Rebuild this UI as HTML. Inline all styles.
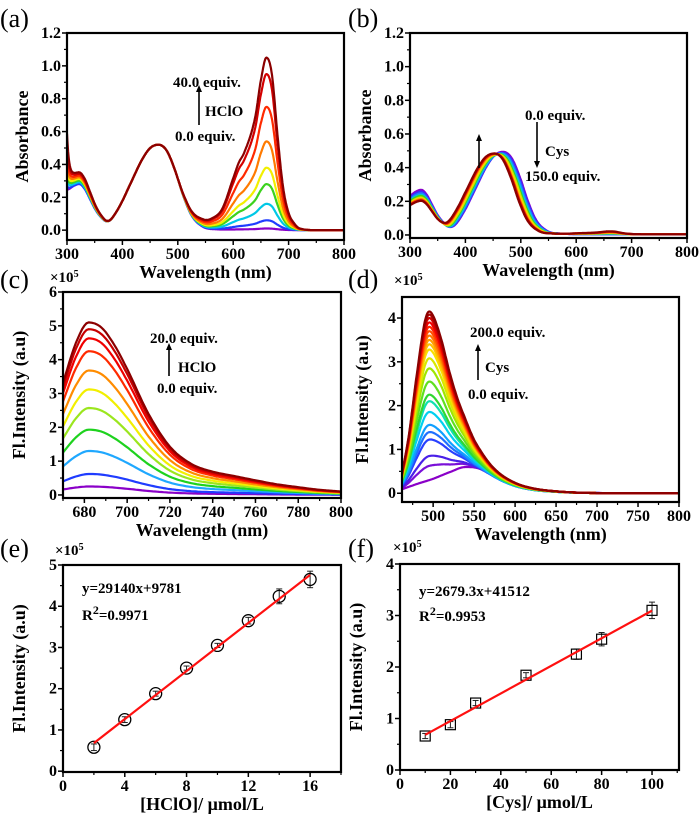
<!DOCTYPE html>
<html><head><meta charset="utf-8">
<style>
body{margin:0;background:#fff;}
svg{display:block;}
text{font-family:"Liberation Serif","DejaVu Serif",serif !important;}
.tk{font-weight:bold;font-size:16px;}
.ttl{font-weight:bold;font-size:18px;}
.ann{font-weight:bold;font-size:15px;}
.pl{font-size:26px;font-weight:normal;}
</style></head>
<body>
<svg id="fig" width="700" height="818" viewBox="0 0 700 818" font-family="Liberation Serif, serif"></svg>
<script>
// ---------- Panel (a) data: HClO absorbance ----------
const aCurveColors = ["#8a00c8","#1f3cff","#00c8e6","#3cd21e","#f2ef00","#ff7a00","#ff2a00","#d40000","#8b0000"];
const aPeak660 = [0.01,0.06,0.16,0.28,0.38,0.54,0.75,0.95,1.05];
const aVisPeak = [0.52,0.52,0.52,0.52,0.52,0.52,0.52,0.52,0.52];
const aUvPeak = [0.25,0.25,0.26,0.27,0.28,0.29,0.3,0.31,0.32];
const aUvStart = [0.22,0.24,0.27,0.3,0.33,0.37,0.42,0.5,0.56];
const shape660Wl = [500,540,560,580,600,610,620,640,650,660,670,680,690,700,710,720,750,800];
const shape660Val = [0.0,0.04,0.06,0.12,0.3,0.39,0.45,0.66,0.87,1.0,0.9,0.55,0.25,0.1,0.04,0.01,0,0];
// ---------- Panel (b) data: Cys absorbance ----------
const bCurveColors = ["#8a00c8","#3a2cff","#1f80ff","#00c8e6","#3cd21e","#c8e600","#ffd000","#ff7a00","#ff2a00","#c80000","#8b0000"];
const bPeakPos = [468,467,465,463,461,459,457,455,454,453,452];
const bPeakAmp = [0.49,0.485,0.48,0.478,0.476,0.475,0.475,0.476,0.478,0.48,0.48];
const bUvAmp = [0.235,0.225,0.215,0.205,0.2,0.19,0.185,0.18,0.175,0.172,0.17];
const bRedBump = [0,0,0.002,0.004,0.006,0.008,0.01,0.012,0.014,0.016,0.018];
// shared absorbance profile (offset nm from peak -> normalized)
const visOff = [-170,-110,-90,-70,-50,-30,-15,0,15,30,45,60,80,100,170];
const visVal = [0.06,0.06,0.09,0.28,0.55,0.82,0.96,1,0.93,0.7,0.4,0.17,0.04,0.01,0];
const uvOff = [-30,-20,-10,0,10,20,30,40,50,70];
const uvVal = [0.8,0.85,0.95,1,0.88,0.62,0.36,0.18,0.05,0];
// ---------- Panel (c) data: HClO fluorescence ----------
const cCurveColors = ["#8a00c8","#1f3cff","#1fa8ff","#1ed21e","#9be61e","#f2ef00","#ff8c00","#ff2a00","#f00000","#c80000","#8b0000"];
const cPeaks = [0.25,0.62,1.3,1.93,2.57,3.12,3.68,4.25,4.63,4.9,5.1];
const cShapeWl = [670,676,682,688,694,700,710,720,730,740,750,760,770,780,790,800];
const cShapeVal = [0.65,0.88,1,0.97,0.87,0.73,0.47,0.28,0.18,0.135,0.11,0.085,0.062,0.045,0.03,0.02];
// ---------- Panel (d) data: Cys fluorescence ----------
const dCurveColors = ["#8a00c8","#7a10d8","#4a20e8","#2840ff","#1f70ff","#10a0ff","#00d0f0","#10e0b0","#30d830","#60e020","#a0e600","#d8e800","#f8e000","#ffc000","#ffa000","#ff7800","#ff5000","#ff2800","#f00000","#d00000","#a80000","#8b0000"];
const dPeaks = [0.0,0.35,0.6,1.0,1.18,1.35,1.65,1.9,2.05,2.35,2.65,2.88,3.08,3.2,3.3,3.4,3.5,3.6,3.7,3.8,3.88,3.95];
const dBroad = [0.6,0.55,0.5,0.45,0.43,0.42,0.41,0.4,0.4,0.4,0.4,0.4,0.4,0.4,0.4,0.4,0.4,0.4,0.4,0.4,0.4,0.4];
const dShapeWl = [462,470,480,490,495,500,510,520,530,540,550,560,570,580,600,620,650,700,800];
const dShapeVal = [0.1,0.3,0.65,0.95,1,0.97,0.82,0.62,0.45,0.32,0.21,0.14,0.09,0.06,0.03,0.015,0.005,0,0];
const dBroadWl = [462,480,500,520,540,555,570,585,600,620,650,700,750,800];
const dBroadVal = [0.15,0.35,0.55,0.8,1,0.95,0.75,0.5,0.3,0.15,0.06,0.01,0,0];
// ---------- Panel (e) data ----------
const eX = [2,4,6,8,10,12,14,16];
const eY = [0.58,1.25,1.88,2.5,3.05,3.65,4.24,4.65];
const eErr = [0.08,0.07,0.06,0.05,0.05,0.08,0.18,0.2];
const eSlope = 0.2914, eIntercept = 0.09781;
// ---------- Panel (f) data ----------
const fX = [10,20,30,50,70,80,100];
const fY = [0.66,0.88,1.3,1.84,2.25,2.54,3.1];
const fErr = [0.05,0.06,0.05,0.05,0.1,0.13,0.16];
const fSlope = 0.026793, fIntercept = 0.41512;

const NS="http://www.w3.org/2000/svg";
const svg=document.getElementById('fig');
function el(tag,attrs,parent,text){const e=document.createElementNS(NS,tag);for(const k in attrs)e.setAttribute(k,attrs[k]);if(tag==='text')e.setAttribute('font-family','Liberation Serif, serif');if(text!==undefined)e.textContent=text;(parent||svg).appendChild(e);return e;}
// monotone cubic interpolation (Fritsch-Carlson)
function smooth(xs,ys,x){
 const n=xs.length;
 if(x<=xs[0])return ys[0];if(x>=xs[n-1])return ys[n-1];
 const d=[],m=[];
 for(let i=0;i<n-1;i++)d.push((ys[i+1]-ys[i])/(xs[i+1]-xs[i]));
 m[0]=d[0];m[n-1]=d[n-2];
 for(let i=1;i<n-1;i++){m[i]=(d[i-1]*d[i]<=0)?0:(d[i-1]+d[i])/2;}
 for(let i=0;i<n-1;i++){if(d[i]===0){m[i]=0;m[i+1]=0;}else{const a=m[i]/d[i],b=m[i+1]/d[i],s=a*a+b*b;if(s>9){const t=3/Math.sqrt(s);m[i]=t*a*d[i];m[i+1]=t*b*d[i];}}}
 let i=0;while(x>xs[i+1])i++;
 const h=xs[i+1]-xs[i],t=(x-xs[i])/h;
 const h00=2*t*t*t-3*t*t+1,h10=t*t*t-2*t*t+t,h01=-2*t*t*t+3*t*t,h11=t*t*t-t*t;
 return h00*ys[i]+h10*h*m[i]+h01*ys[i+1]+h11*h*m[i+1];
}

function panel(name,box,xd,yd,xticks,yticks,xminor,yminor,xlabel,ylabel,ylabX,tickfmt){
 const g=el('g',{},svg);
 
 
 const sx=v=>box.L+(v-xd[0])/(xd[1]-xd[0])*(box.R-box.L);
 const sy=v=>box.B-(v-yd[0])/(yd[1]-yd[0])*(box.B-box.T);
 const clipId=name+'-clip';
 const cp=el('clipPath',{id:clipId},g);el('rect',{x:box.L,y:box.T,width:box.R-box.L,height:box.B-box.T},cp);
 const plot=el('g',{'clip-path':'url(#'+clipId+')'},g);
 
 
 const ax=el('g',{},g);
 
 
 xticks.forEach(v=>{el('line',{x1:sx(v),x2:sx(v),y1:box.B,y2:box.B+5,stroke:'#000','stroke-width':1.5},ax);
  const t=el('text',{x:sx(v),y:box.B+19,'text-anchor':'middle',class:'tk'},ax,tickfmt.x(v));
  });
 xminor.forEach(v=>el('line',{x1:sx(v),x2:sx(v),y1:box.B,y2:box.B+3,stroke:'#000','stroke-width':1.2},ax));
 yticks.forEach(v=>{el('line',{x1:box.L-5,x2:box.L,y1:sy(v),y2:sy(v),stroke:'#000','stroke-width':1.5},ax);
  const t=el('text',{x:box.L-6,y:sy(v)+5,'text-anchor':'end',class:'tk'},ax,tickfmt.y(v));
  });
 yminor.forEach(v=>el('line',{x1:box.L-3,x2:box.L,y1:sy(v),y2:sy(v),stroke:'#000','stroke-width':1.2},ax));
 el('rect',{x:box.L,y:box.T,width:box.R-box.L,height:box.B-box.T,fill:'none',stroke:'#000','stroke-width':2.2},ax);
 const xt=el('text',{x:(box.L+box.R)/2,y:box.B+38,'text-anchor':'middle',class:'ttl'},g,xlabel);
 
 const cy=(box.T+box.B)/2;
 const yt=el('text',{x:ylabX,y:cy,'text-anchor':'middle',class:'ttl',transform:`rotate(-90 ${ylabX} ${cy})`},g,ylabel);
 
 return {sx,sy,plot,g};
}
function range(a,b,s){const r=[];for(let v=a;v<=b+1e-9;v+=s)r.push(+v.toFixed(4));return r;}
function curve(P,fn,x0,x1,color,w,name){
 let d='';for(let x=x0;x<=x1;x+=1){d+=(d?'L':'M')+P.sx(x).toFixed(1)+','+P.sy(fn(x)).toFixed(1);}
 const p=el('path',{d,fill:'none',stroke:color,'stroke-width':w,'stroke-linejoin':'round'},P.plot);
 
}
function label(txt,x,y,cls,name){const t=el('text',{x,y,class:cls},svg,txt);return t;}
function arrow(x,y1,y2,name){const g=el('g',{},svg);
 const dir=y2<y1?-1:1;el('line',{x1:x,x2:x,y1:y1,y2:y2-dir*6,stroke:'#000','stroke-width':1.6},g);
 el('path',{d:`M${x-3},${y2-dir*7}L${x+3},${y2-dir*7}L${x},${y2}Z`,fill:'#000'},g);}
function sup5(x,y,name){const t=el('text',{x,y,class:'ann','font-size':'14'},svg);
 el('tspan',{},t,'×10');el('tspan',{dy:-5,'font-size':'10'},t,'5');}

const f1={x:v=>String(v),y:v=>v.toFixed(1)};
const f0={x:v=>String(v),y:v=>String(v)};

// ---- (a)
const A=panel('panel-a',{L:67,R:344,T:33,B:240},[300,800],[-0.06,1.2],range(300,800,100),range(0,1.2,0.2),range(350,750,100),range(0.1,1.1,0.2),'Wavelength (nm)','Absorbance',28,f1);
aCurveColors.forEach((c,i)=>{
 curve(A,x=>aVisPeak[i]*smooth(visOff,visVal,x-465)+aUvPeak[i]*smooth(uvOff,uvVal,x-322)+Math.max(0,aUvStart[i]-aUvPeak[i]*0.85)*Math.exp(-(x-300)/4)+aPeak660[i]*smooth(shape660Wl,shape660Val,x),300,800,c,2.2,'absorbance-curve-hclo-'+i);
});
// ---- (b)
const B=panel('panel-b',{L:410,R:687,T:33,B:238},[300,800],[-0.018,1.2],range(300,800,100),range(0,1.2,0.2),range(350,750,100),range(0.1,1.1,0.2),'Wavelength (nm)','Absorbance',371,f1);
bCurveColors.forEach((c,i)=>{
 curve(B,x=>bPeakAmp[i]*smooth(visOff,visVal,x-bPeakPos[i])+bUvAmp[i]*smooth(uvOff,uvVal,x-320)+bRedBump[i]*smooth(shape660Wl,shape660Val,x)+0.004,300,800,c,2.2,'absorbance-curve-cys-'+i);
});
// ---- (c)
const C=panel('panel-c',{L:63,R:341,T:292,B:498},[670,800],[-0.09,6],range(680,800,20),range(0,6,1),range(670,790,10),range(0.5,5.5,1),'Wavelength (nm)','Fl.Intensity (a.u)',25,f0);
cCurveColors.forEach((c,i)=>{
 curve(C,x=>cPeaks[i]*smooth(cShapeWl,cShapeVal,x),670,800,c,2.2,'fluorescence-curve-hclo-'+i);
});
// ---- (d)
const D=panel('panel-d',{L:402,R:679,T:297,B:502},[462,800],[-0.2,4.48],range(500,800,50),range(0,4,1),range(475,775,50),range(0.5,4,1),'Wavelength (nm)','Fl.Intensity (a.u)',368,f0);
dCurveColors.forEach((c,i)=>{
 curve(D,x=>dPeaks[i]*smooth(dShapeWl,dShapeVal,x)+dBroad[i]*smooth(dBroadWl,dBroadVal,x),462,800,c,2.2,'fluorescence-curve-cys-'+i);
});
// ---- (e)
const E=panel('panel-e',{L:63,R:341,T:565,B:772},[0,18],[-0.02,5],range(0,16,4),range(0,5,1),range(2,18,4),range(0.5,4.5,1),'[HClO]/ μmol/L','Fl.Intensity (a.u)',25,f0);
eX.forEach((x,i)=>{
 const g=el('g',{},E.plot);
 el('line',{x1:E.sx(x),x2:E.sx(x),y1:E.sy(eY[i]-eErr[i]),y2:E.sy(eY[i]+eErr[i]),stroke:'#222','stroke-width':1},g);
 el('line',{x1:E.sx(x)-3,x2:E.sx(x)+3,y1:E.sy(eY[i]+eErr[i]),y2:E.sy(eY[i]+eErr[i]),stroke:'#222','stroke-width':1},g);
 el('line',{x1:E.sx(x)-3,x2:E.sx(x)+3,y1:E.sy(eY[i]-eErr[i]),y2:E.sy(eY[i]-eErr[i]),stroke:'#222','stroke-width':1},g);
 el('circle',{cx:E.sx(x),cy:E.sy(eY[i]),r:6,fill:'none',stroke:'#000','stroke-width':1.3},g);
});
{const l=el('line',{x1:E.sx(eX[0]),y1:E.sy(eSlope*eX[0]+eIntercept),x2:E.sx(eX[eX.length-1]),y2:E.sy(eSlope*eX[eX.length-1]+eIntercept),stroke:'#ff1010','stroke-width':2.2},E.plot);
 }
// ---- (f)
const F=panel('panel-f',{L:400,R:679,T:564,B:770},[0,110.7],[0,4],range(0,100,20),range(0,4,1),range(10,110,20),range(0.5,3.5,1),'[Cys]/ μmol/L','Fl.Intensity (a.u)',362,f0);
fX.forEach((x,i)=>{
 const g=el('g',{},F.plot);
 el('line',{x1:F.sx(x),x2:F.sx(x),y1:F.sy(fY[i]-fErr[i]),y2:F.sy(fY[i]+fErr[i]),stroke:'#222','stroke-width':1},g);
 el('line',{x1:F.sx(x)-3,x2:F.sx(x)+3,y1:F.sy(fY[i]+fErr[i]),y2:F.sy(fY[i]+fErr[i]),stroke:'#222','stroke-width':1},g);
 el('line',{x1:F.sx(x)-3,x2:F.sx(x)+3,y1:F.sy(fY[i]-fErr[i]),y2:F.sy(fY[i]-fErr[i]),stroke:'#222','stroke-width':1},g);
 el('rect',{x:F.sx(x)-5,y:F.sy(fY[i])-5,width:10,height:10,fill:'none',stroke:'#000','stroke-width':1.2},g);
});
{const l=el('line',{x1:F.sx(fX[0]),y1:F.sy(fSlope*fX[0]+fIntercept),x2:F.sx(fX[fX.length-1]),y2:F.sy(fSlope*fX[fX.length-1]+fIntercept),stroke:'#ff1010','stroke-width':2.2},F.plot);
 }

// ---- panel labels
label('(a)',0,27,'pl','panel-label-a');
label('(b)',348,27,'pl','panel-label-b');
label('(c)',0,288,'pl','panel-label-c');
label('(d)',348,288,'pl','panel-label-d');
label('(e)',0,557,'pl','panel-label-e');
label('(f)',348,557,'pl','panel-label-f');
sup5(50,282,'scale-label-c');sup5(394,285,'scale-label-d');sup5(55,555,'scale-label-e');sup5(393,552,'scale-label-f');

// ---- annotations
label('40.0 equiv.',173,87,'ann','annotation-max-hclo');
arrow(199,125,85,'arrow-increase-hclo');
label('HClO',205,116,'ann','annotation-hclo');
label('0.0 equiv.',175,141,'ann','annotation-min-hclo');
label('0.0 equiv.',525,120,'ann','annotation-start-cys-abs');
arrow(537,122,168,'arrow-decrease-cys');
label('Cys',545,156,'ann','annotation-cys-abs');
label('150.0 equiv.',525,181,'ann','annotation-end-cys-abs');
arrow(479,168,134,'arrow-increase-cys-abs');
label('20.0 equiv.',150,343,'ann','annotation-max-hclo-fl');
arrow(169,376,343,'arrow-increase-hclo-fl');
label('HClO',178,372,'ann','annotation-hclo-fl');
label('0.0 equiv.',157,393,'ann','annotation-min-hclo-fl');
label('200.0 equiv.',470,337,'ann','annotation-max-cys-fl');
arrow(478,380,344,'arrow-increase-cys-fl');
label('Cys',485,372,'ann','annotation-cys-fl');
label('0.0 equiv.',468,399,'ann','annotation-min-cys-fl');
{const t=el('text',{x:82,y:593,class:'ann','font-size':'16'},svg,'y=29140x+9781');}
{const t=el('text',{x:82,y:620,class:'ann','font-size':'16'},svg);
 el('tspan',{},t,'R');el('tspan',{dy:-6,'font-size':'12'},t,'2');el('tspan',{dy:6},t,'=0.9971');}
{const t=el('text',{x:419,y:596,class:'ann','font-size':'16'},svg,'y=2679.3x+41512');}
{const t=el('text',{x:419,y:621,class:'ann','font-size':'16'},svg);
 el('tspan',{},t,'R');el('tspan',{dy:-6,'font-size':'12'},t,'2');el('tspan',{dy:6},t,'=0.9953');}
</script>
</body></html>
